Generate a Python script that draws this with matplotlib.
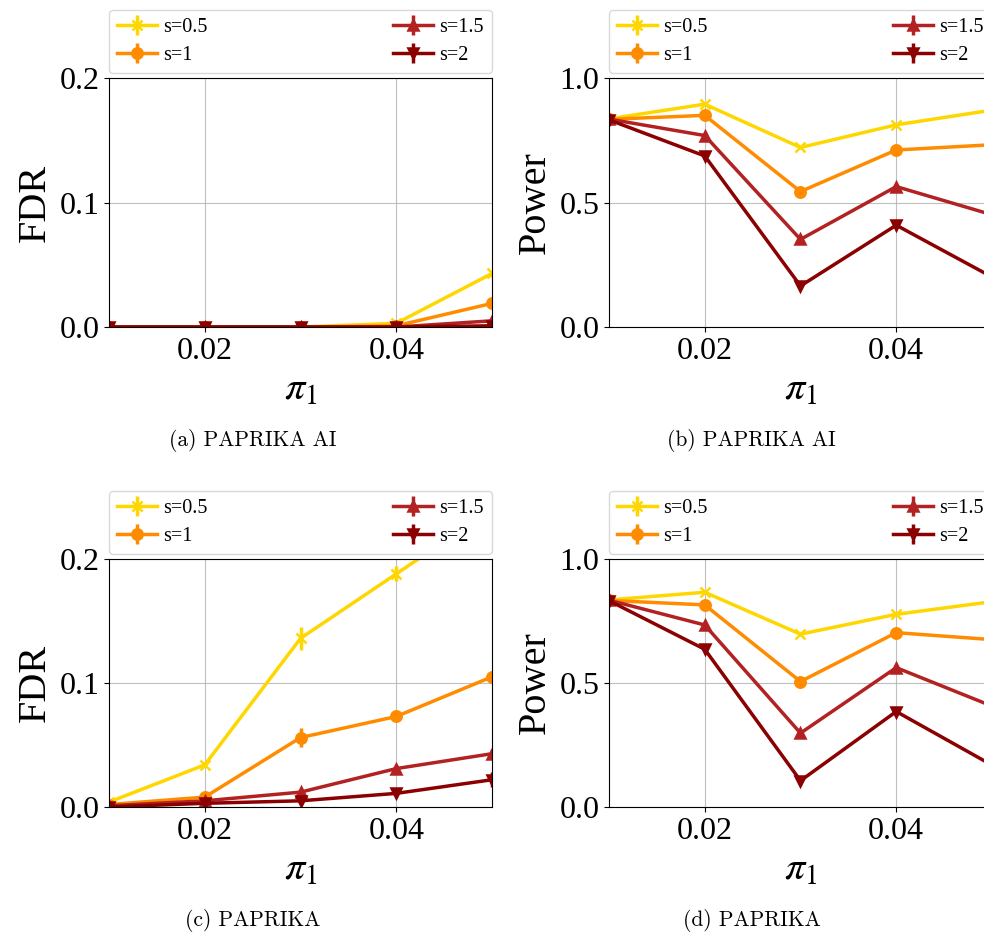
import matplotlib
matplotlib.use("Agg")
import matplotlib.pyplot as plt

plt.rcParams['font.family'] = 'serif'
plt.rcParams['font.serif'] = ['Liberation Serif', 'DejaVu Serif']
plt.rcParams['mathtext.fontset'] = 'stix'

# ---- data ----
pi1 = [0.01, 0.02, 0.03, 0.04, 0.05]
labels = ["s=0.5", "s=1", "s=1.5", "s=2"]
colors = ["gold", "darkorange", "firebrick", "darkred"]
markers = ["x", "o", "^", "v"]

# (a) PAPRIKA AI - FDR
fdr_ai = [
    [0.0, 0.0, 0.0, 0.003, 0.043],
    [0.0, 0.0, 0.0, 0.001, 0.019],
    [0.0, 0.0, 0.0, 0.0, 0.005],
    [0.0, 0.0, 0.0, 0.0, 0.001],
]
fdr_ai_err = [
    [0.0, 0.0, 0.0, 0.001, 0.003],
    [0.0, 0.0, 0.0, 0.0, 0.002],
    [0.0, 0.0, 0.0, 0.0, 0.001],
    [0.0, 0.0, 0.0, 0.0, 0.0],
]
# (b) PAPRIKA AI - Power
pow_ai = [
    [0.836, 0.895, 0.721, 0.812, 0.871],
    [0.834, 0.850, 0.544, 0.711, 0.732],
    [0.835, 0.769, 0.352, 0.564, 0.451],
    [0.832, 0.687, 0.165, 0.409, 0.201],
]
pow_ai_err = [
    [0.005, 0.005, 0.006, 0.006, 0.005],
    [0.005, 0.006, 0.007, 0.007, 0.006],
    [0.005, 0.007, 0.008, 0.008, 0.008],
    [0.005, 0.007, 0.007, 0.008, 0.008],
]
# (c) PAPRIKA - FDR
fdr_pk = [
    [0.004, 0.034, 0.136, 0.188, 0.240],
    [0.002, 0.008, 0.056, 0.073, 0.105],
    [0.001, 0.005, 0.012, 0.031, 0.043],
    [0.0, 0.003, 0.005, 0.011, 0.022],
]
fdr_pk_err = [
    [0.001, 0.002, 0.009, 0.006, 0.006],
    [0.001, 0.002, 0.008, 0.003, 0.004],
    [0.0, 0.001, 0.002, 0.003, 0.004],
    [0.0, 0.001, 0.001, 0.002, 0.006],
]
# (d) PAPRIKA - Power
pow_pk = [
    [0.835, 0.866, 0.697, 0.777, 0.828],
    [0.833, 0.815, 0.506, 0.703, 0.675],
    [0.834, 0.734, 0.298, 0.562, 0.407],
    [0.832, 0.636, 0.106, 0.385, 0.169],
]
pow_pk_err = [
    [0.005, 0.005, 0.006, 0.006, 0.005],
    [0.005, 0.006, 0.007, 0.007, 0.006],
    [0.005, 0.007, 0.008, 0.008, 0.008],
    [0.005, 0.007, 0.007, 0.008, 0.008],
]

panels = [
    # (rect, values, errors, ylabel, ylim, yticks, caption, caption_x, caption_y)
    ([0.1108, 0.6491, 0.3892, 0.2672], fdr_ai, fdr_ai_err, "FDR", (0, 0.2), [0.0, 0.1, 0.2], "(a) PAPRIKA AI", 0.257, 0.515),
    ([0.6189, 0.6491, 0.3892, 0.2672], pow_ai, pow_ai_err, "Power", (0, 1.0), [0.0, 0.5, 1.0], "(b) PAPRIKA AI", 0.764, 0.515),
    ([0.1108, 0.1341, 0.3892, 0.2661], fdr_pk, fdr_pk_err, "FDR", (0, 0.2), [0.0, 0.1, 0.2], "(c) PAPRIKA", 0.257, 0.0),
    ([0.6189, 0.1341, 0.3892, 0.2661], pow_pk, pow_pk_err, "Power", (0, 1.0), [0.0, 0.5, 1.0], "(d) PAPRIKA", 0.764, 0.0),
]

fig = plt.figure(figsize=(9.84, 9.32), dpi=100)

for rect, vals, errs, ylab, ylim, yticks, cap, cx, cy in panels:
    ax = fig.add_axes(rect)
    for i in range(len(labels)):
        ax.errorbar(pi1, vals[i], yerr=errs[i], color=colors[i], marker=markers[i],
                    markersize=7.5, markeredgewidth=1.8, linewidth=2.5, elinewidth=2.5,
                    capsize=0, label=labels[i])
    ax.set_xlim(0.01, 0.05)
    ax.set_ylim(*ylim)
    ax.set_xticks([0.02, 0.04])
    ax.set_yticks(yticks)
    ax.set_xticklabels(["0.02", "0.04"])
    ax.set_yticklabels(["%.1f" % t for t in yticks])
    ax.tick_params(labelsize=23)
    ax.grid(True, color="#b0b0b0", linewidth=0.8, alpha=0.8)
    ax.set_axisbelow(True)
    ax.set_ylabel(ylab, fontsize=29)
    ax.set_xlabel(r"$\pi_1$", fontsize=29)
    ax.legend(loc="lower left", bbox_to_anchor=(0, 1.02, 1, 0.2), mode="expand",
              ncol=2, fontsize=14.5, handlelength=2.0, handletextpad=0.3,
              borderaxespad=0.0, borderpad=0.4, labelspacing=0.45,
              framealpha=0.8, edgecolor="#d0d0d0")
    fig.text(cx, cy, cap, ha="center", va="bottom", fontsize=15.5, family="cmr10")

fig.savefig("out.png", dpi=100)
